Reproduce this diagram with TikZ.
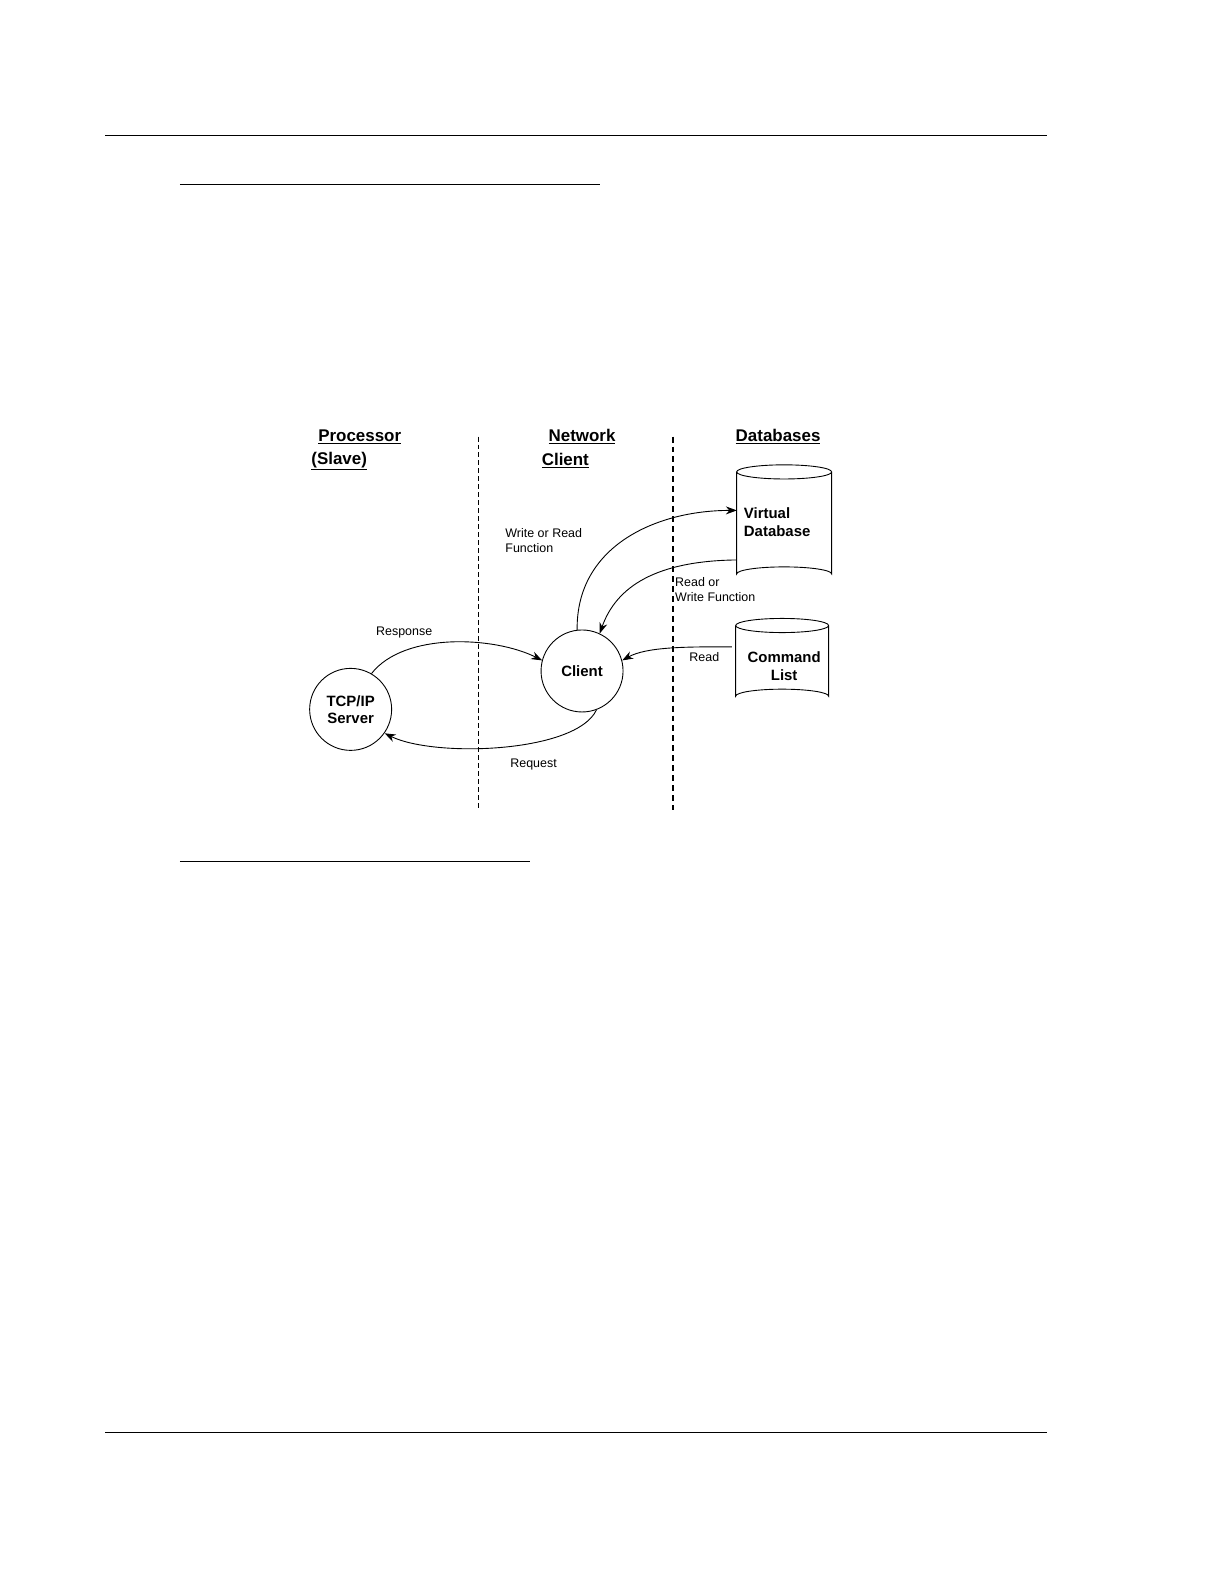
\documentclass[tikz,border=0pt]{standalone}
\usepackage{fontspec}
\setmainfont{Liberation Sans}
\usetikzlibrary{arrows.meta}
\begin{document}
\begin{tikzpicture}[x=1bp,y=-1bp,
  rule/.style={line width=1pt},
  sep/.style={dashed,line width=0.8pt},
  arr/.style={-{Stealth[length=11pt,width=8pt]},line width=0.9pt},
  lbl/.style={font=\fontsize{12.5}{15}\selectfont,align=left,inner sep=0pt},
  hdr/.style={font=\fontsize{17}{19}\selectfont\bfseries,inner sep=0pt},
  circ/.style={circle,draw,line width=0.9pt,minimum size=82bp,align=center,font=\fontsize{15}{17}\selectfont\bfseries,inner sep=0pt}]
\useasboundingbox (0,0) rectangle (1224,1584);
\begin{scope}[scale=1.0105]
\draw[rule] (104,134) -- (1036,134);
\draw[rule] (178,183) -- (594,183);
\draw[rule] (178,853) -- (524,853);
\draw[rule] (104,1418) -- (1036,1418);
\draw[sep,dash pattern=on 5pt off 3pt] (473,432) -- (473,802);
\draw[sep,line width=1.6pt,dash pattern=on 6pt off 4pt] (666,432) -- (666,802);
\node[hdr] (h1) at (356,432) {\underline{Processor}};
\node[hdr,anchor=west] (h1b) at (308,456) {\underline{(Slave)}};
\node[hdr] (h2) at (576,432) {\underline{Network}};
\node[hdr,anchor=west] (h2b) at (536,456) {\underline{Client}};
\node[hdr] (h3) at (770,432) {\underline{Databases}};
\node[circ] (tcp) at (347,702) {TCP/IP\\Server};
\node[circ] (cl) at (576,664) {Client};
\draw[line width=0.9pt] (729,467) -- (729,568) arc[start angle=180,end angle=360,x radius=47,y radius=7] -- (823,467);
\draw[line width=0.9pt] (776,467) ellipse[x radius=47,y radius=7];
\node[font=\fontsize{15}{18}\selectfont\bfseries,align=left,anchor=west,inner sep=0pt] (vdb) at (736,517) {Virtual\\Database};
\draw[line width=0.9pt] (728,619) -- (728,689) arc[start angle=180,end angle=360,x radius=46,y radius=7] -- (820,619);
\draw[line width=0.9pt] (774,619) ellipse[x radius=46,y radius=7];
\node[font=\fontsize{15}{18}\selectfont\bfseries,align=center,inner sep=0pt] (cmd) at (776,659) {Command\\List};
\coordinate (vdbIn) at (729,505);
\coordinate (vdbOut) at (729,554);
\coordinate (cmdOut) at (724,640);
\draw[arr] (tcp.60) .. controls (400,625) and (490,630) .. (cl.165);
\draw[arr] (cl.-70) .. controls (570,745) and (430,750) .. (tcp.-35);
\draw[arr] (cl.97) .. controls (570,540) and (650,505) .. (vdbIn);
\draw[arr] (vdbOut) .. controls (650,555) and (610,580) .. (cl.65);
\draw[arr] (cmdOut) .. controls (680,640) and (640,640) .. (cl.15);
\node[lbl,anchor=north west] (l1) at (500,523) {Write or Read\\Function};
\node[lbl,anchor=north west] (l2) at (668,571) {Read or\\Write Function};
\node[lbl] (l3) at (400,626) {Response};
\node[lbl] (l4) at (528,757) {Request};
\node[lbl] (l5) at (697,650) {Read};
\end{scope}
\end{tikzpicture}
\end{document}
